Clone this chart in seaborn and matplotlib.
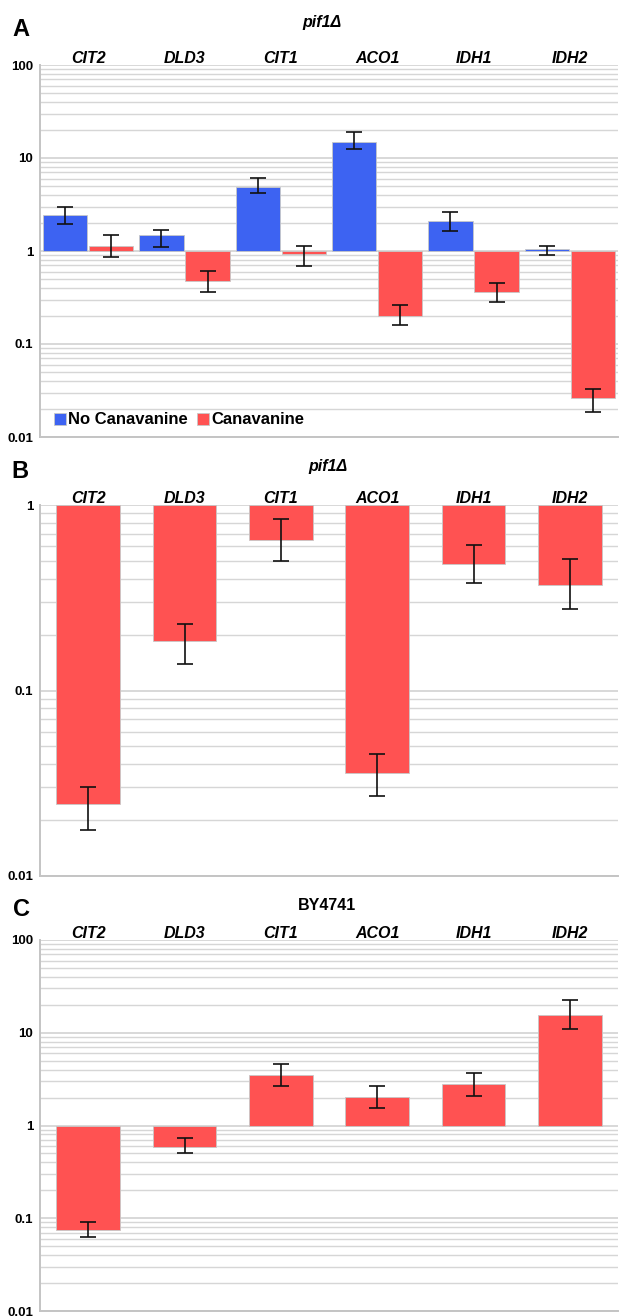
import numpy as np
import pandas as pd
import matplotlib
matplotlib.use("Agg")
import matplotlib.pyplot as plt
import seaborn as sns

# ---------------- data ----------------
genes = ["CIT2", "DLD3", "CIT1", "ACO1", "IDH1", "IDH2"]

a_no_can = [2.46, 1.50, 4.9, 14.8, 2.1, 1.05]
a_no_can_hi = [2.95, 1.68, 6.1, 19.0, 2.6, 1.13]
a_no_can_lo = [1.95, 1.11, 4.24, 12.5, 1.65, 0.90]
a_can = [1.14, 0.47, 0.93, 0.20, 0.36, 0.026]
a_can_hi = [1.49, 0.61, 1.12, 0.26, 0.45, 0.033]
a_can_lo = [0.87, 0.36, 0.69, 0.16, 0.28, 0.0185]

b_vals = [0.0245, 0.185, 0.648, 0.036, 0.48, 0.372]
b_hi = [0.030, 0.227, 0.837, 0.0456, 0.606, 0.51]
b_lo = [0.0178, 0.139, 0.497, 0.0269, 0.38, 0.275]

c_vals = [0.075, 0.59, 3.47, 2.05, 2.78, 15.5]
c_hi = [0.091, 0.737, 4.6, 2.69, 3.69, 22.5]
c_lo = [0.0625, 0.50, 2.69, 1.53, 2.1, 10.96]

series_names = ["No Canavanine", "Canavanine"]
panel_titles = ["pif1Δ", "pif1Δ", "BY4741"]
panel_letters = ["A", "B", "C"]

BLUE = "#3d63f2"
RED = "#ff5252"
GRID = "#d6d6d6"
SPINE = "#c4c4c4"

sns.set_style("white")
plt.rcParams["font.family"] = ["Liberation Sans", "DejaVu Sans"]
plt.rcParams["text.color"] = "black"
plt.rcParams["ytick.labelcolor"] = "black"
plt.rcParams["axes.labelcolor"] = "black"

W, H = 619, 1316
fig = plt.figure(figsize=(W / 100, H / 100), dpi=100)


def ax_rect(top_px, bottom_px):
    left = 40 / W
    width = (618 - 40) / W
    return [left, 1 - bottom_px / H, width, (bottom_px - top_px) / H]


def style_axis(ax, lo_dec, hi_dec):
    ax.set_ylim(lo_dec, hi_dec)
    ax.set_xlim(-0.5, 5.5)
    majors = list(range(lo_dec, hi_dec + 1))
    minors = [np.log10(k * 10.0 ** d) for d in range(lo_dec, hi_dec) for k in range(2, 10)]
    ax.set_yticks(majors)
    ax.set_yticklabels([("%g" % (10.0 ** d)) for d in majors])
    ax.set_yticks(minors, minor=True)
    ax.grid(axis="y", which="major", color=GRID, linewidth=1.3)
    ax.grid(axis="y", which="minor", color=GRID, linewidth=1.0)
    ax.grid(axis="x", visible=False)
    ax.set_axisbelow(True)
    for s in ["top", "right"]:
        ax.spines[s].set_visible(False)
    for s in ["left", "bottom"]:
        ax.spines[s].set_color(SPINE)
        ax.spines[s].set_linewidth(1.4)
    ax.tick_params(axis="y", which="major", length=4, width=1, color=SPINE,
                   labelsize=9.5, pad=1, labelcolor="black")
    ax.tick_params(axis="y", which="minor", length=0)
    ax.tick_params(axis="x", length=0, labelbottom=False)
    for t in ax.get_yticklabels():
        t.set_fontweight("bold")
    ax.set_xlabel("")
    ax.set_ylabel("")
    for i, g in enumerate(genes):
        ax.annotate(g, xy=(i, 1), xycoords=("data", "axes fraction"),
                    xytext=(0, 1.6), textcoords="offset points",
                    ha="center", va="baseline", fontsize=11.5,
                    fontweight="bold", fontstyle="italic", color="black")


def add_errors(ax, container, vals, lo, hi):
    xs = [p.get_x() + p.get_width() / 2 for p in container.patches]
    v = np.log10(vals)
    yerr = [v - np.log10(lo), np.log10(hi) - v]
    ax.errorbar(xs, v, yerr=yerr, fmt="none", ecolor="#111111",
                elinewidth=1.2, capsize=6, capthick=1.2, zorder=5)


# ---------------- Panel A ----------------
axA = fig.add_axes(ax_rect(65, 437))
dfA = pd.DataFrame({
    "gene": genes * 2,
    "series": [series_names[0]] * 6 + [series_names[1]] * 6,
    "log": np.log10(a_no_can + a_can),
})
sns.barplot(data=dfA, x="gene", y="log", hue="series", order=genes,
            hue_order=series_names, palette=[BLUE, RED], saturation=1,
            width=0.96, gap=0.04, errorbar=None, edgecolor="#c8c8c8",
            linewidth=0.6, ax=axA)
add_errors(axA, axA.containers[0], a_no_can, a_no_can_lo, a_no_can_hi)
add_errors(axA, axA.containers[1], a_can, a_can_lo, a_can_hi)
style_axis(axA, -2, 2)
sns.move_legend(axA, "center left", bbox_to_anchor=(54 / W, 1 - 420 / H),
                bbox_transform=fig.transFigure, ncol=2, title=None,
                frameon=False, fontsize=12, handlelength=0.72,
                handleheight=0.72, handletextpad=0.15, columnspacing=0.5,
                borderpad=0, borderaxespad=0)
for t in axA.get_legend().get_texts():
    t.set_fontweight("bold")
    t.set_color("black")

# ---------------- Panel B ----------------
axB = fig.add_axes(ax_rect(505, 876))
dfB = pd.DataFrame({"gene": genes, "log": np.log10(b_vals)})
sns.barplot(data=dfB, x="gene", y="log", order=genes, color=RED,
            saturation=1, width=0.66, errorbar=None, edgecolor="#c8c8c8",
            linewidth=0.6, ax=axB)
add_errors(axB, axB.containers[0], b_vals, b_lo, b_hi)
style_axis(axB, -2, 0)

# ---------------- Panel C ----------------
axC = fig.add_axes(ax_rect(940, 1311))
dfC = pd.DataFrame({"gene": genes, "log": np.log10(c_vals)})
sns.barplot(data=dfC, x="gene", y="log", order=genes, color=RED,
            saturation=1, width=0.66, errorbar=None, edgecolor="#c8c8c8",
            linewidth=0.6, ax=axC)
add_errors(axC, axC.containers[0], c_vals, c_lo, c_hi)
style_axis(axC, -2, 2)

# ---------------- titles & letters ----------------
title_pos = [(322, 22), (328, 466), (327, 905)]
letter_pos = [(21, 30), (20, 471), (21, 909)]
for i in range(3):
    tx, ty = title_pos[i]
    fig.text(tx / W, 1 - ty / H, panel_titles[i], ha="center", va="center",
             fontsize=11.5, fontweight="bold", color="black",
             fontstyle="italic" if i < 2 else "normal")
    lx, ly = letter_pos[i]
    fig.text(lx / W, 1 - ly / H, panel_letters[i], ha="center", va="center",
             fontsize=17, fontweight="bold", color="black")

fig.savefig("out.png", dpi=100)
